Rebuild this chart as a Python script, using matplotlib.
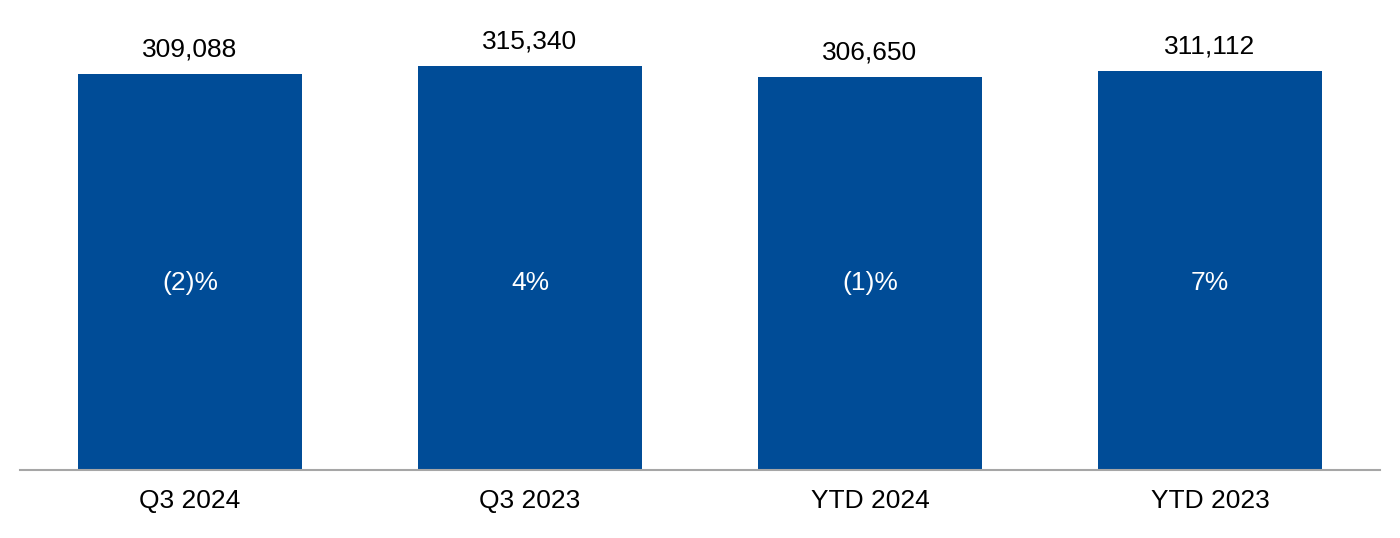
import matplotlib
matplotlib.use("Agg")
import matplotlib.pyplot as plt

plt.rcParams['font.family'] = ['Liberation Sans', 'DejaVu Sans']

CATEGORIES = ["Q3 2024", "Q3 2023", "YTD 2024", "YTD 2023"]
VALUES = [309088, 315340, 306650, 311112]
CHANGES = ["(2)%", "4%", "(1)%", "7%"]

BAR_COLOR = "#004C97"
FONT_SIZE = 19

fig = plt.figure(figsize=(14.0, 5.38), dpi=100)
# axes spans x 20..1380 px, y 10..470 px
ax = fig.add_axes([20 / 1400, (538 - 470) / 538, 1360 / 1400, 460 / 538])

x = range(len(CATEGORIES))
ax.bar(x, VALUES, width=0.66, color=BAR_COLOR, zorder=2)

ax.set_xlim(-0.5, len(CATEGORIES) - 0.5)
ax.set_ylim(0, 315340 / 404 * 460)

for xi, v, c in zip(x, VALUES, CHANGES):
    ax.annotate(f"{v:,}", (xi, v), xytext=(0, 9), textcoords="offset points",
                ha="center", va="bottom", fontsize=FONT_SIZE, color="black")
    ax.text(xi, 146000, c, ha="center", va="center", fontsize=FONT_SIZE, color="white")

for s in ["top", "right", "left"]:
    ax.spines[s].set_visible(False)
ax.spines["bottom"].set_color("#A6A6A6")
ax.spines["bottom"].set_linewidth(1.5)
ax.set_yticks([])
ax.set_xticks(list(x))
ax.set_xticklabels(CATEGORIES, fontsize=FONT_SIZE)
ax.tick_params(axis="x", length=0, pad=14)

fig.savefig("out.png", dpi=100)
